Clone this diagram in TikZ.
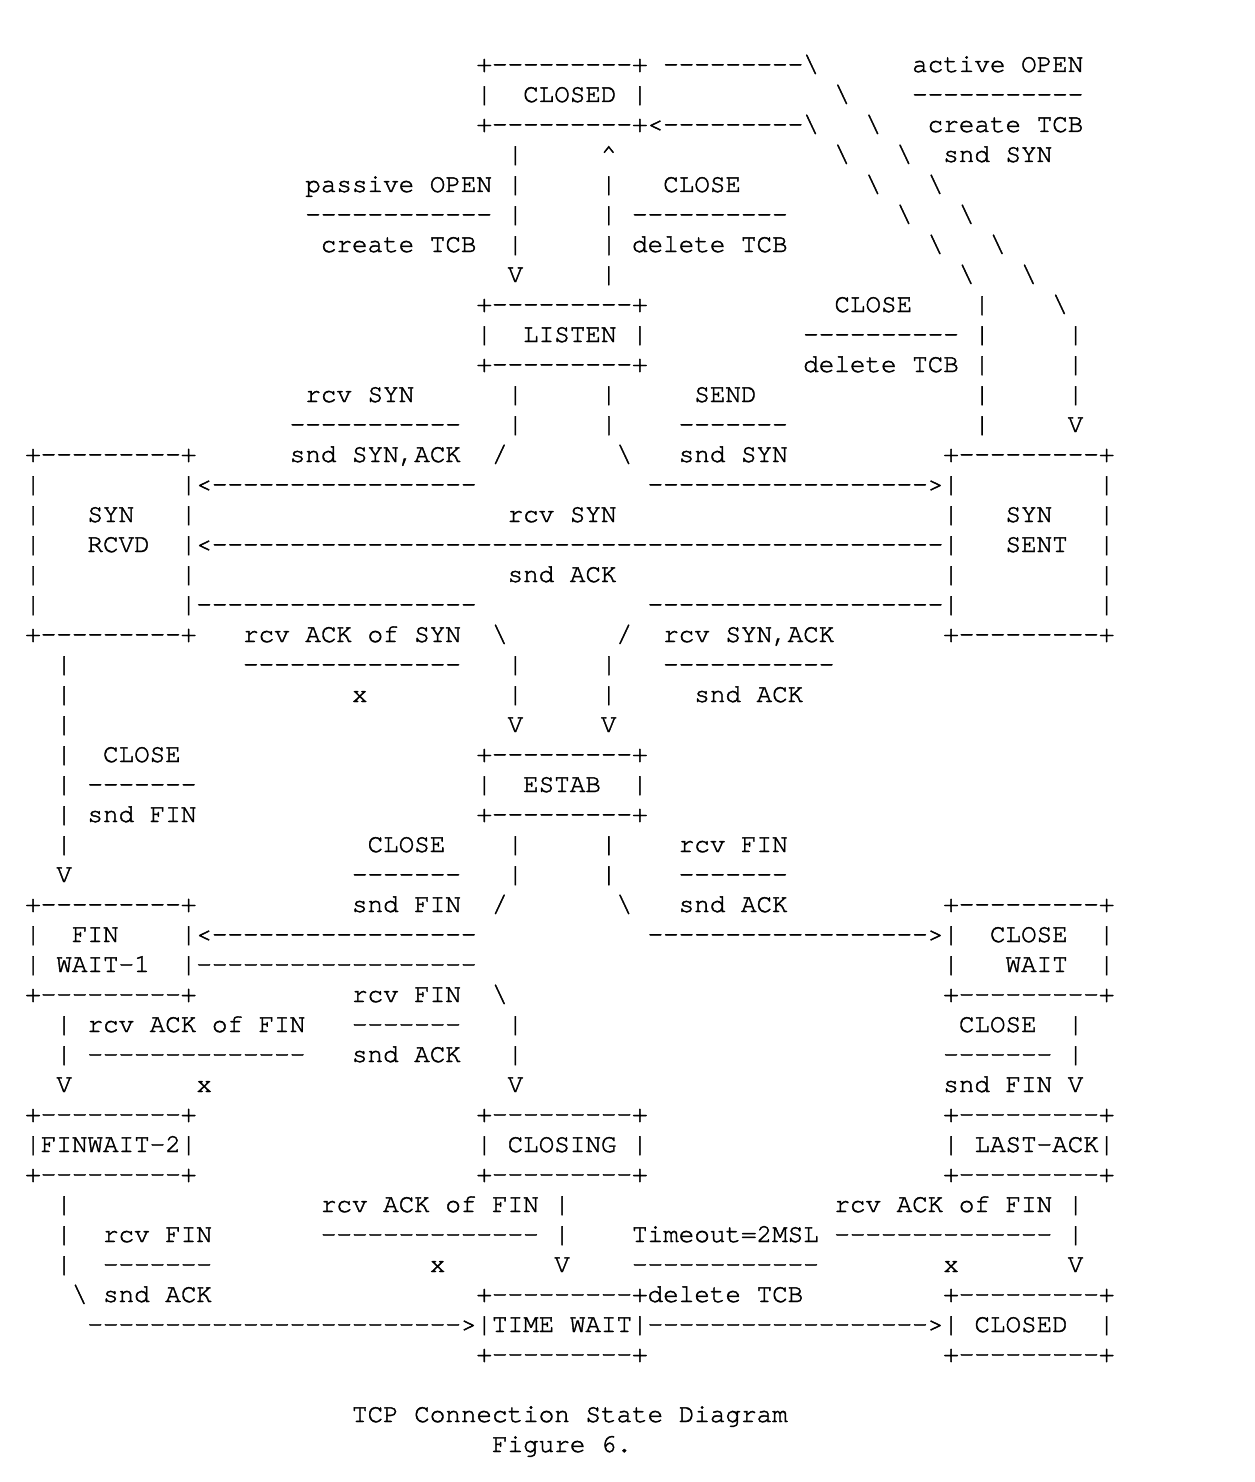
\documentclass[tikz,border=0pt]{standalone}
\usepackage{fontspec}
\setmonofont{TeX Gyre Cursor}[FakeBold=1.6]
\usepackage{tikz}
\newlength\cw
\setlength\cw{7.78pt}
\newcommand\asp[1]{\hspace*{#1\cw}}
\newcommand\bsl{\textbackslash}
\newcommand\crt{\textasciicircum}
\newcommand\asciirow[3]{\node[txt] (l#1) at ({9.7+15.56*#2},{72+30*#1}) {#3};}
\begin{document}
\begin{tikzpicture}[x=0.5pt,y=-0.5pt,
  txt/.style={anchor=base west,inner sep=0pt,outer sep=0pt,
    font=\ttfamily\fontsize{12.967pt}{15pt}\selectfont\frenchspacing}]
\fill[white] (0,0) rectangle (1254,1482);
\useasboundingbox (0,0) rectangle (1254,1482);
\asciirow{0}{30}{+---------+ ---------\bsl\asp{6}active OPEN}
\asciirow{1}{30}{|\asp{2}CLOSED |\asp{12}\bsl\asp{4}-----------}
\asciirow{2}{30}{+---------+<---------\bsl\asp{3}\bsl\asp{3}create TCB}
\asciirow{3}{32}{|\asp{5}\crt\asp{14}\bsl\asp{3}\bsl\asp{2}snd SYN}
\asciirow{4}{19}{passive OPEN |\asp{5}|\asp{3}CLOSE\asp{8}\bsl\asp{3}\bsl}
\asciirow{5}{19}{------------ |\asp{5}| ----------\asp{7}\bsl\asp{3}\bsl}
\asciirow{6}{20}{create TCB\asp{2}|\asp{5}| delete TCB\asp{9}\bsl\asp{3}\bsl}
\asciirow{7}{32}{V\asp{5}|\asp{22}\bsl\asp{3}\bsl}
\asciirow{8}{30}{+---------+\asp{12}CLOSE\asp{4}|\asp{4}\bsl}
\asciirow{9}{30}{|\asp{2}LISTEN |\asp{10}---------- |\asp{5}|}
\asciirow{10}{30}{+---------+\asp{10}delete TCB |\asp{5}|}
\asciirow{11}{19}{rcv SYN\asp{6}|\asp{5}|\asp{5}SEND\asp{14}|\asp{5}|}
\asciirow{12}{18}{-----------\asp{3}|\asp{5}|\asp{4}-------\asp{12}|\asp{5}V}
\asciirow{13}{1}{+---------+\asp{6}snd SYN,ACK\asp{2}/\asp{7}\bsl\asp{3}snd SYN\asp{10}+---------+}
\asciirow{14}{1}{|\asp{9}|<-----------------\asp{11}------------------>|\asp{9}|}
\asciirow{15}{1}{|\asp{3}SYN\asp{3}|\asp{20}rcv SYN\asp{21}|\asp{3}SYN\asp{3}|}
\asciirow{16}{1}{|\asp{3}RCVD\asp{2}|<-----------------------------------------------|\asp{3}SENT\asp{2}|}
\asciirow{17}{1}{|\asp{9}|\asp{20}snd ACK\asp{21}|\asp{9}|}
\asciirow{18}{1}{|\asp{9}|------------------\asp{11}-------------------|\asp{9}|}
\asciirow{19}{1}{+---------+\asp{3}rcv ACK of SYN\asp{2}\bsl\asp{7}/\asp{2}rcv SYN,ACK\asp{7}+---------+}
\asciirow{20}{3}{|\asp{11}--------------\asp{3}|\asp{5}|\asp{3}-----------}
\asciirow{21}{3}{|\asp{18}x\asp{9}|\asp{5}|\asp{5}snd ACK}
\asciirow{22}{3}{|\asp{28}V\asp{5}V}
\asciirow{23}{3}{|\asp{2}CLOSE\asp{19}+---------+}
\asciirow{24}{3}{| -------\asp{18}|\asp{2}ESTAB\asp{2}|}
\asciirow{25}{3}{| snd FIN\asp{18}+---------+}
\asciirow{26}{3}{|\asp{19}CLOSE\asp{4}|\asp{5}|\asp{4}rcv FIN}
\asciirow{27}{3}{V\asp{18}-------\asp{3}|\asp{5}|\asp{4}-------}
\asciirow{28}{1}{+---------+\asp{10}snd FIN\asp{2}/\asp{7}\bsl\asp{3}snd ACK\asp{10}+---------+}
\asciirow{29}{1}{|\asp{2}FIN\asp{4}|<-----------------\asp{11}------------------>|\asp{2}CLOSE\asp{2}|}
\asciirow{30}{1}{| WAIT-1\asp{2}|------------------\asp{30}|\asp{3}WAIT\asp{2}|}
\asciirow{31}{1}{+---------+\asp{10}rcv FIN\asp{2}\bsl\asp{28}+---------+}
\asciirow{32}{3}{| rcv ACK of FIN\asp{3}-------\asp{3}|\asp{28}CLOSE\asp{2}|}
\asciirow{33}{3}{| --------------\asp{3}snd ACK\asp{3}|\asp{27}------- |}
\asciirow{34}{3}{V\asp{8}x\asp{19}V\asp{27}snd FIN V}
\asciirow{35}{1}{+---------+\asp{18}+---------+\asp{19}+---------+}
\asciirow{36}{1}{|FINWAIT-2|\asp{18}| CLOSING |\asp{19}| LAST-ACK|}
\asciirow{37}{1}{+---------+\asp{18}+---------+\asp{19}+---------+}
\asciirow{38}{3}{|\asp{16}rcv ACK of FIN |\asp{17}rcv ACK of FIN |}
\asciirow{39}{3}{|\asp{2}rcv FIN\asp{7}-------------- |\asp{4}Timeout=2MSL -------------- |}
\asciirow{40}{3}{|\asp{2}-------\asp{14}x\asp{7}V\asp{4}------------\asp{8}x\asp{7}V}
\asciirow{41}{4}{\bsl{} snd ACK\asp{17}+---------+delete TCB\asp{9}+---------+}
\asciirow{42}{5}{------------------------>|TIME WAIT|------------------>| CLOSED\asp{2}|}
\asciirow{43}{30}{+---------+\asp{19}+---------+}
\asciirow{45}{22}{TCP Connection State Diagram}
\asciirow{46}{31}{Figure 6.}
\end{tikzpicture}
\end{document}
